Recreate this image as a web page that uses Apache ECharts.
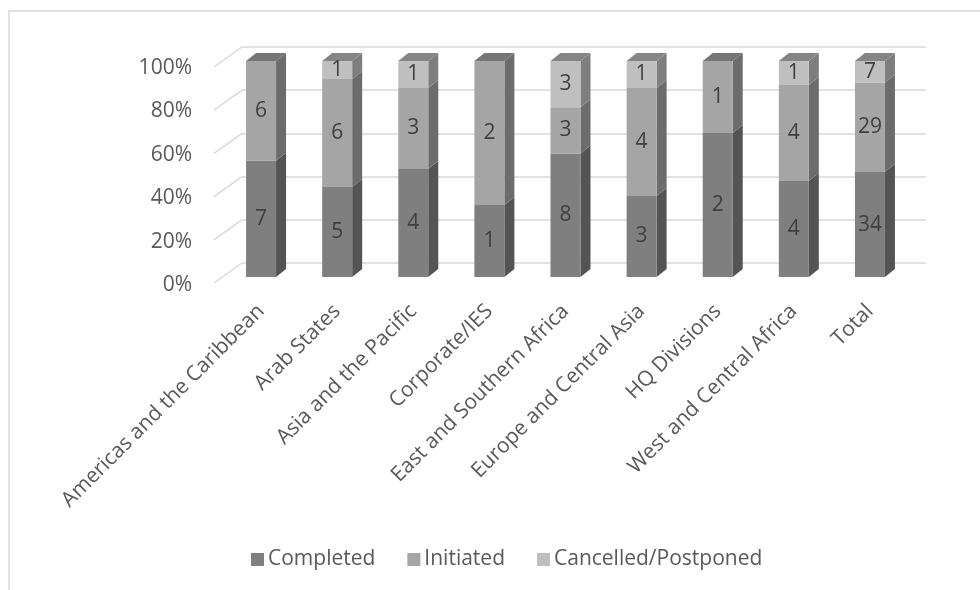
<!DOCTYPE html>
<html>
<head>
<meta charset="utf-8">
<script src="https://cdn.jsdelivr.net/npm/echarts@6/dist/echarts.min.js"></script>
<style>
  html, body { margin: 0; padding: 0; background: #fff; }
  #main { width: 980px; height: 590px; }
</style>
</head>
<body>
<div id="main"></div>
<script>
// categories and counts
var regions = ['Americas and the Caribbean', 'Arab States', 'Asia and the Pacific', 'Corporate/IES',
    'East and Southern Africa', 'Europe and Central Asia', 'HQ Divisions', 'West and Central Africa', 'Total'];
var completed = [7, 5, 4, 1, 8, 3, 2, 4, 34];
var initiated = [6, 6, 3, 2, 3, 4, 1, 4, 29];
var cancelled = [0, 1, 1, 0, 3, 1, 0, 1, 7];
var yTicks = [0, 20, 40, 60, 80, 100];

var seriesNames = ['Completed', 'Initiated', 'Cancelled/Postponed'];
var counts = [completed, initiated, cancelled];
var frontColors = ['#7f7f7f', '#a5a5a5', '#bfbfbf'];
var sideColors = ['#545454', '#6c6c6c', '#7e7e7e'];
var topColors = ['#6a6a6a', '#767676', '#858585'];

var FONT = '"Open Sans", "Noto Sans", sans-serif';
var FS = 21;
var DX = 10, DY = -8; // bar depth

// percentages of each region's total
function pct(arr) {
    return arr.map(function (v, i) {
        var tot = completed[i] + initiated[i] + cancelled[i];
        return v / tot * 100;
    });
}
var percents = counts.map(pct);

var myChart = echarts.init(document.getElementById('main'));

var barSeries = seriesNames.map(function (name, s) {
    return {
        name: name,
        type: 'bar',
        stack: 'all',
        xAxisIndex: 0,
        yAxisIndex: 0,
        barWidth: 30,
        z: 3,
        itemStyle: { color: frontColors[s] },
        label: {
            show: true,
            position: 'inside',
            color: '#404040',
            fontFamily: FONT,
            fontSize: FS,
            formatter: function (p) {
                var c = counts[s][p.dataIndex];
                return c ? String(c) : '';
            }
        },
        data: percents[s]
    };
});

// side and top faces of the bars
var depthSeries = {
    type: 'custom',
    xAxisIndex: 0,
    yAxisIndex: 0,
    z: 2,
    silent: true,
    data: regions.map(function (r, i) { return i; }),
    renderItem: function (params, api) {
        var i = api.value(0);
        var kids = [];
        var base = 0;
        var topIdx = 0;
        for (var s = 0; s < 3; s++) {
            var v = percents[s][i];
            if (v <= 0) continue;
            var p0 = api.coord([i, base]);
            var p1 = api.coord([i, base + v]);
            var xr = p0[0] + 15;
            kids.push({
                type: 'polygon',
                shape: { points: [[xr, p0[1]], [xr + DX, p0[1] + DY], [xr + DX, p1[1] + DY], [xr, p1[1]]] },
                style: { fill: sideColors[s] }
            });
            base += v;
            topIdx = s;
        }
        var pt = api.coord([i, base]);
        var xl = pt[0] - 15, xr2 = pt[0] + 15;
        kids.push({
            type: 'polygon',
            shape: { points: [[xl, pt[1]], [xr2, pt[1]], [xr2 + DX, pt[1] + DY], [xl + DX, pt[1] + DY]] },
            style: { fill: topColors[topIdx] }
        });
        return { type: 'group', children: kids };
    }
};

// left wall diagonals from the back gridlines
var wallSeries = {
    type: 'custom',
    xAxisIndex: 1,
    yAxisIndex: 1,
    z: 1,
    silent: true,
    data: yTicks.map(function (t) { return [0, t]; }),
    renderItem: function (params, api) {
        var p = api.coord([0, api.value(1)]);
        return {
            type: 'line',
            shape: { x1: p[0], y1: p[1], x2: p[0] - 28, y2: p[1] + 20 },
            style: { stroke: '#d9d9d9', lineWidth: 1.5 }
        };
    }
};

var option = {
    animation: false,
    backgroundColor: '#fff',
    graphic: [{
        type: 'rect',
        shape: { x: 9, y: 11, width: 1000, height: 700 },
        style: { fill: 'none', stroke: '#d9d9d9', lineWidth: 1.5 },
        silent: true
    }],
    legend: {
        bottom: 15,
        left: 246,
        itemWidth: 13,
        itemHeight: 13,
        itemGap: 32,
        icon: 'rect',
        textStyle: { color: '#595959', fontFamily: FONT, fontSize: FS, padding: [0, 0, 0, -1] },
        data: seriesNames
    },
    grid: [
        { left: 223, right: 72, top: 61, bottom: 313 },   // bars (front face)
        { left: 242, right: 54, top: 47, bottom: 327 },   // back wall
        { left: 214, right: 700, top: 68, bottom: 305 }   // axis labels plane
    ],
    xAxis: [
        {
            type: 'category',
            gridIndex: 0,
            data: regions,
            axisLine: { show: false },
            axisTick: { show: false },
            axisLabel: {
                rotate: 45,
                margin: 31,
                interval: 0,
                color: '#595959',
                fontFamily: FONT,
                fontSize: FS
            }
        },
        { type: 'value', gridIndex: 1, min: 0, max: 1, show: false },
        { type: 'value', gridIndex: 2, min: 0, max: 1, show: false }
    ],
    yAxis: [
        { type: 'value', gridIndex: 0, min: 0, max: 100, show: false },
        {
            type: 'value', gridIndex: 1, min: 0, max: 100, interval: 20,
            axisLine: { show: false },
            axisTick: { show: false },
            axisLabel: { show: false },
            splitLine: { lineStyle: { color: '#d9d9d9', width: 1.5 } }
        },
        {
            type: 'value', gridIndex: 2, min: 0, max: 100, interval: 20,
            axisLine: { show: false },
            axisTick: { show: false },
            splitLine: { show: false },
            axisLabel: {
                margin: 22,
                formatter: '{value}%',
                color: '#595959',
                fontFamily: FONT,
                fontSize: FS
            }
        }
    ],
    series: barSeries.concat([depthSeries, wallSeries])
};

myChart.setOption(option);
</script>
</body>
</html>
